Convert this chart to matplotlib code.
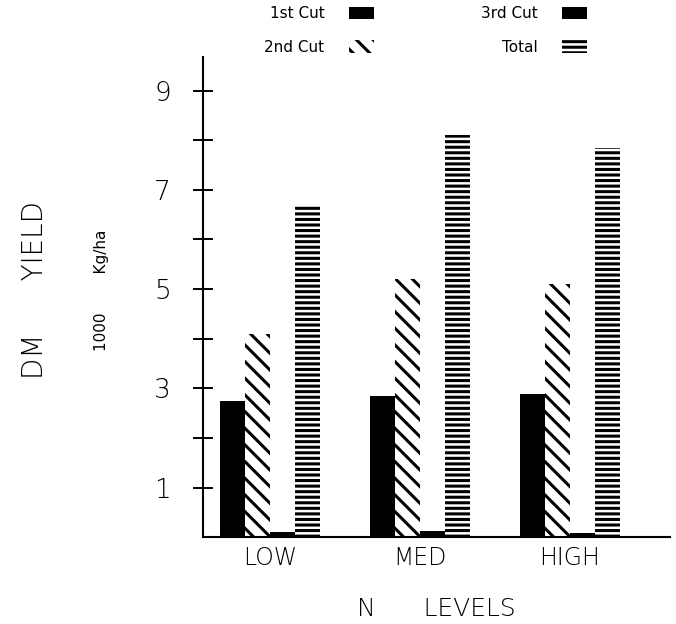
import matplotlib
matplotlib.use("Agg")
import matplotlib.pyplot as plt
import numpy as np
from matplotlib.patches import Patch

plt.rcParams['font.family'] = ['DejaVu Sans']
plt.rcParams['hatch.linewidth'] = 2.2

levels = ["LOW", "MED", "HIGH"]
series = ["1st Cut", "2nd Cut", "3rd Cut", "Total"]
cut1 = [2.75, 2.85, 2.88]
cut2 = [4.1, 5.2, 5.1]
cut3 = [0.1, 0.12, 0.08]
total = [6.7, 8.1, 7.85]
yticks = [1, 2, 3, 4, 5, 6, 7, 8, 9]
ytick_labels = ["1", "", "3", "", "5", "", "7", "", "9"]

fig = plt.figure(figsize=(6.76, 6.24), dpi=100)
ax = fig.add_axes([0.300, 0.139, 0.691, 0.770])

x = np.arange(len(levels))
w = 0.167
styles = [
    dict(facecolor="black", edgecolor="black", hatch=None),
    dict(facecolor="white", edgecolor="black", hatch="\\\\"),
    dict(facecolor="black", edgecolor="black", hatch=None),
    dict(facecolor="white", edgecolor="black", hatch="---"),
]
data = [cut1, cut2, cut3, total]
handles = []
for i, (vals, st, name) in enumerate(zip(data, styles, series)):
    ax.bar(x + (i - 1.5) * w, vals, width=w * 0.98, linewidth=0, **st)
    handles.append(Patch(linewidth=0, label=name, **st))

ax.set_xlim(-0.447, 2.667)
ax.set_ylim(0, 9.68)
ax.set_xticks(x)
ax.set_xticklabels(levels, fontsize=17, fontweight='light')
ax.set_yticks(yticks)
ax.set_yticklabels(ytick_labels, fontsize=19, fontweight='light')
ax.tick_params(axis='y', direction='inout', length=14, width=1.4, pad=16)
ax.tick_params(axis='x', length=0, pad=6)
for s in ['top', 'right']:
    ax.spines[s].set_visible(False)
for s in ['left', 'bottom']:
    ax.spines[s].set_linewidth(1.5)

ax.set_xlabel("N      LEVELS", fontsize=18, fontweight='light', labelpad=20)
fig.text(0.052, 0.535, "DM      YIELD", rotation=90, fontsize=20, fontweight='light',
         ha='center', va='center')
fig.text(0.150, 0.535, "1000        Kg/ha", rotation=90, fontsize=11, fontweight='medium',
         ha='center', va='center')

leg = fig.legend(handles=handles, ncol=2, markerfirst=False, frameon=False,
                 loc='center', bbox_to_anchor=(0.63, 0.951), fontsize=11,
                 handlelength=1.65, handleheight=0.9, columnspacing=7.0,
                 labelspacing=1.2, handletextpad=1.6)

fig.savefig("out.png", dpi=100)
